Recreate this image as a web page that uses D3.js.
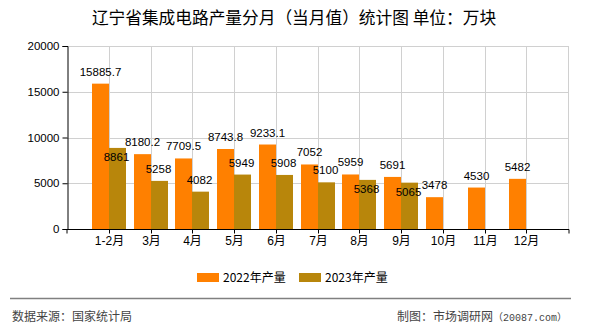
<!DOCTYPE html>
<html>
<head>
<meta charset="utf-8">
<script src="https://cdn.jsdelivr.net/npm/d3@7"></script>
<style>
  html, body { margin: 0; padding: 0; background: #fff; }
  svg { display: block; }
</style>
</head>
<body>
<svg id="chart" width="590" height="330"></svg>
<script>
const categories = ["1-2月", "3月", "4月", "5月", "6月", "7月", "8月", "9月", "10月", "11月", "12月"];
const values2022 = [15885.7, 8180.2, 7709.5, 8743.8, 9233.1, 7052, 5959, 5691, 3478, 4530, 5482];
const values2023 = [8861, 5258, 4082, 5949, 5908, 5100, 5368, 5065, null, null, null];
const labels2022 = ["15885.7", "8180.2", "7709.5", "8743.8", "9233.1", "7052", "5959", "5691", "3478", "4530", "5482"];
const labels2023 = ["8861", "5258", "4082", "5949", "5908", "5100", "5368", "5065", null, null, null];
const inside2023 = [true, false, false, false, false, false, true, true, false, false, false];
const yTicks = [0, 5000, 10000, 15000, 20000];
const seriesNames = ["2022年产量", "2023年产量"];
const colors = ["#ff8000", "#b8860b"];
const titleText = "辽宁省集成电路产量分月（当月值）统计图 单位：万块";
const sourceText = "数据来源：国家统计局";
const creditMain = "制图：市场调研网";
const creditSite = "（20087.com）";

const svg = d3.select("#chart");
const numFont = "'Liberation Sans', 'Noto Sans CJK SC', sans-serif";
const cjkFont = "'Noto Sans CJK SC', 'Liberation Sans', sans-serif";
const monoFont = "'Liberation Mono', 'Noto Sans CJK SC', monospace";

const plotL = 67, plotR = 568, plotT = 46, plotB = 229;
const x = d3.scalePoint().domain(categories).range([plotL, plotR]).padding(1);
const y = d3.scaleLinear().domain([0, 20000]).range([plotB, plotT]);
const barW = 17;
const cx = d => Math.round(x(d));

// title
svg.append("text").attr("x", 294).attr("y", 24).attr("text-anchor", "middle")
  .attr("font-family", cjkFont).attr("font-size", 16.7).attr("fill", "#000")
  .text(titleText);

// grid
const g = svg.append("g");
g.selectAll("line.hg").data(yTicks).join("line")
  .attr("x1", plotL).attr("x2", plotR).attr("y1", d => Math.round(y(d)) + 0.5).attr("y2", d => Math.round(y(d)) + 0.5)
  .attr("stroke", "#d0d0d0").attr("stroke-width", 1);
g.selectAll("line.vg").data(categories).join("line")
  .attr("x1", d => cx(d) + 0.5).attr("x2", d => cx(d) + 0.5)
  .attr("y1", plotT).attr("y2", plotB)
  .attr("stroke", "#d0d0d0").attr("stroke-width", 1);
g.append("line").attr("x1", plotR + 0.5).attr("x2", plotR + 0.5).attr("y1", plotT).attr("y2", plotB)
  .attr("stroke", "#d0d0d0");

// bars
const bars = svg.append("g");
bars.selectAll("rect.s1").data(categories).join("rect")
  .attr("x", d => cx(d) - barW).attr("width", barW)
  .attr("y", (d, i) => y(values2022[i])).attr("height", (d, i) => plotB - y(values2022[i]))
  .attr("fill", colors[0]);
bars.selectAll("rect.s2").data(categories.filter((d, i) => values2023[i] != null)).join("rect")
  .attr("x", d => cx(d)).attr("width", barW)
  .attr("y", (d, i) => y(values2023[i])).attr("height", (d, i) => plotB - y(values2023[i]))
  .attr("fill", colors[1]);

// axes
const yAxis = d3.axisLeft(y).tickValues(yTicks).tickSize(5).tickPadding(3).tickFormat(d3.format("d"));
const yg = svg.append("g").attr("transform", `translate(${plotL + 0.5},0)`).call(yAxis);
yg.select(".domain").attr("stroke", "#000");
yg.selectAll("text").attr("font-family", numFont).attr("font-size", 11.5).attr("fill", "#000");

const xAxis = d3.axisBottom(x).tickSize(4).tickPadding(3);
const xg = svg.append("g").attr("transform", `translate(0,${plotB + 0.5})`).call(xAxis);
xg.select(".domain").attr("stroke", "#000").attr("d", `M${plotL},4V0H${plotR + 1}V4`);
xg.selectAll(".tick").attr("transform", d => `translate(${cx(d) + 0.5},0)`);
xg.selectAll("text").attr("font-family", numFont).attr("font-size", 12).attr("fill", "#000");

// value labels
const lab = svg.append("g").attr("font-family", numFont).attr("font-size", 11.5).attr("fill", "#000")
  .attr("text-anchor", "middle");
lab.selectAll("text.l1").data(categories).join("text")
  .attr("x", d => cx(d) - barW / 2)
  .attr("y", (d, i) => y(values2022[i]) - 8)
  .text((d, i) => labels2022[i]);
lab.selectAll("text.l2").data(categories.filter((d, i) => values2023[i] != null)).join("text")
  .attr("x", d => cx(d) + barW / 2 - 1)
  .attr("y", (d, i) => inside2023[i] ? y(values2023[i]) + 13 : y(values2023[i]) - 8)
  .text((d, i) => labels2023[i]);

// legend
const legX = [197, 299];
const leg = svg.append("g");
seriesNames.forEach((name, i) => {
  leg.append("rect").attr("x", legX[i]).attr("y", 273).attr("width", 22).attr("height", 9).attr("fill", colors[i]);
  leg.append("text").attr("x", legX[i] + 26).attr("y", 282).attr("font-family", cjkFont)
    .attr("font-size", 12).attr("fill", "#000").text(name);
});

// footer
svg.append("line").attr("x1", 10).attr("x2", 571).attr("y1", 298.5).attr("y2", 298.5)
  .attr("stroke", "#808080").attr("stroke-width", 1.5);
svg.append("text").attr("x", 12).attr("y", 321).attr("font-family", cjkFont).attr("font-size", 12)
  .attr("fill", "#444").text(sourceText);
const credit = svg.append("text").attr("x", 567).attr("y", 321).attr("text-anchor", "end")
  .attr("font-family", cjkFont).attr("font-size", 12).attr("fill", "#444");
credit.append("tspan").text(creditMain);
credit.append("tspan").attr("font-family", monoFont).attr("font-size", 10).text(creditSite);
</script>
</body>
</html>
